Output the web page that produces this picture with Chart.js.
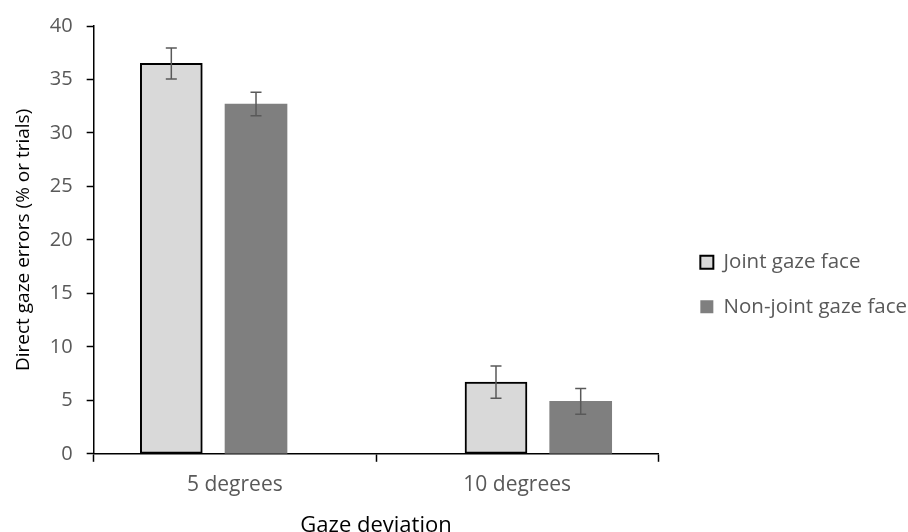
<!DOCTYPE html>
<html>
<head>
<meta charset="utf-8">
<script src="https://cdn.jsdelivr.net/npm/chart.js@4/dist/chart.umd.min.js"></script>
<style>
html,body{margin:0;background:#fff}
#wrap{width:908px;height:532px}
</style>
</head>
<body>
<div id="wrap"><canvas id="chart"></canvas></div>
<script>
const categories = ['5 degrees', '10 degrees'];
const seriesNames = ['Joint gaze face', 'Non-joint gaze face'];
const jointGaze = [36.5, 6.7];
const jointGazeErr = [1.45, 1.5];
const nonJointGaze = [32.7, 4.9];
const nonJointGazeErr = [1.1, 1.2];

// where each group sits on the 0..2 axis (excel spreads them out a bit)
const groupCenter = i => 1 + (i - 0.5) * 1.15;
const barShift = [-0.15, 0.15];

const toPoints = (vals, d) => vals.map((v, i) => ({x: groupCenter(i) + barShift[d], y: v}));

// draw the error bars on top of the bars
const errorBars = {
    id: 'errorBars',
    afterDatasetsDraw(chart) {
        const ctx = chart.ctx;
        const y = chart.scales.y;
        chart.data.datasets.forEach((ds, d) => {
            const meta = chart.getDatasetMeta(d);
            meta.data.forEach((bar, i) => {
                const v = ds.data[i].y;
                const e = ds.errors[i];
                const top = y.getPixelForValue(v + e);
                const bot = y.getPixelForValue(v - e);
                ctx.save();
                ctx.strokeStyle = '#595959';
                ctx.lineWidth = 1.5;
                ctx.beginPath();
                ctx.moveTo(bar.x, top); ctx.lineTo(bar.x, bot);
                ctx.moveTo(bar.x - 5.5, top); ctx.lineTo(bar.x + 5.5, top);
                ctx.moveTo(bar.x - 5.5, bot); ctx.lineTo(bar.x + 5.5, bot);
                ctx.stroke();
                ctx.restore();
            });
        });
    }
};

// nudge the legend a little lower and right, like the excel one
const legendNudge = {
    id: 'legendNudge',
    afterLayout(chart) {
        const lg = chart.legend;
        lg.left += 12;
        lg.right += 12;
        lg.top += 10;
        lg.bottom += 10;
    }
};

const font = 'Open Sans';

const chart = document.querySelector('#chart').getContext('2d');
new Chart(chart, {
    type: 'bar',
    data: {
        datasets: [
            {
                label: seriesNames[0],
                data: toPoints(jointGaze, 0),
                errors: jointGazeErr,
                backgroundColor: '#D9D9D9',
                borderColor: '#000',
                borderWidth: 2,
                borderSkipped: false
            },
            {
                label: seriesNames[1],
                data: toPoints(nonJointGaze, 1),
                errors: nonJointGazeErr,
                backgroundColor: '#7F7F7F',
                borderWidth: 0
            }
        ]
    },
    options: {
        responsive: true,
        maintainAspectRatio: false,
        animation: false,
        grouped: false,
        barThickness: 62,
        layout: {padding: {top: 12, right: 3, left: 12, bottom: -5}},
        plugins: {
            legend: {
                position: 'right',
                maxWidth: 260,
                labels: {
                    boxWidth: 13,
                    boxHeight: 13,
                    padding: 24,
                    color: '#595959',
                    font: {family: font, size: 20.5}
                }
            },
            tooltip: {enabled: false}
        },
        scales: {
            x: {
                type: 'linear',
                min: 0,
                max: 2,
                offset: false,
                afterBuildTicks: (scale) => {
                    scale.ticks = [0, 0.5, 1, 1.5, 2].map(v => ({value: v}));
                },
                ticks: {
                    autoSkip: false,
                    maxRotation: 0,
                    padding: 11,
                    color: '#595959',
                    font: {family: font, size: 21},
                    callback: (v) => (v % 1 === 0.5 ? categories[Math.floor(v)] : '')
                },
                grid: {
                    offset: false,
                    drawOnChartArea: false,
                    tickLength: 8,
                    tickColor: (c) => (c.tick && c.tick.value % 1 ? 'rgba(0,0,0,0)' : '#000'),
                    tickWidth: 1.5
                },
                border: {color: '#000', width: 1.5},
                title: {
                    display: true,
                    text: 'Gaze deviation',
                    color: '#000',
                    font: {family: font, size: 22, lineHeight: 1},
                    padding: {top: 6, bottom: 0}
                }
            },
            y: {
                min: 0,
                max: 40,
                ticks: {
                    stepSize: 5,
                    padding: 14,
                    color: '#595959',
                    font: {family: font, size: 20}
                },
                grid: {
                    drawOnChartArea: false,
                    tickLength: 7,
                    tickColor: '#000',
                    tickWidth: 1.5
                },
                border: {color: '#000', width: 1.5},
                title: {
                    display: true,
                    text: 'Direct gaze errors (% or trials)',
                    color: '#000',
                    font: {family: font, size: 19},
                    padding: {top: 0, bottom: 1}
                }
            },
            // empty axis, only keeps some room between the plot and the legend
            gap: {
                position: 'right',
                grid: {display: false},
                border: {display: false},
                ticks: {display: false},
                afterFit: (s) => { s.width = 6; }
            }
        }
    },
    plugins: [errorBars, legendNudge]
});
</script>
</body>
</html>
